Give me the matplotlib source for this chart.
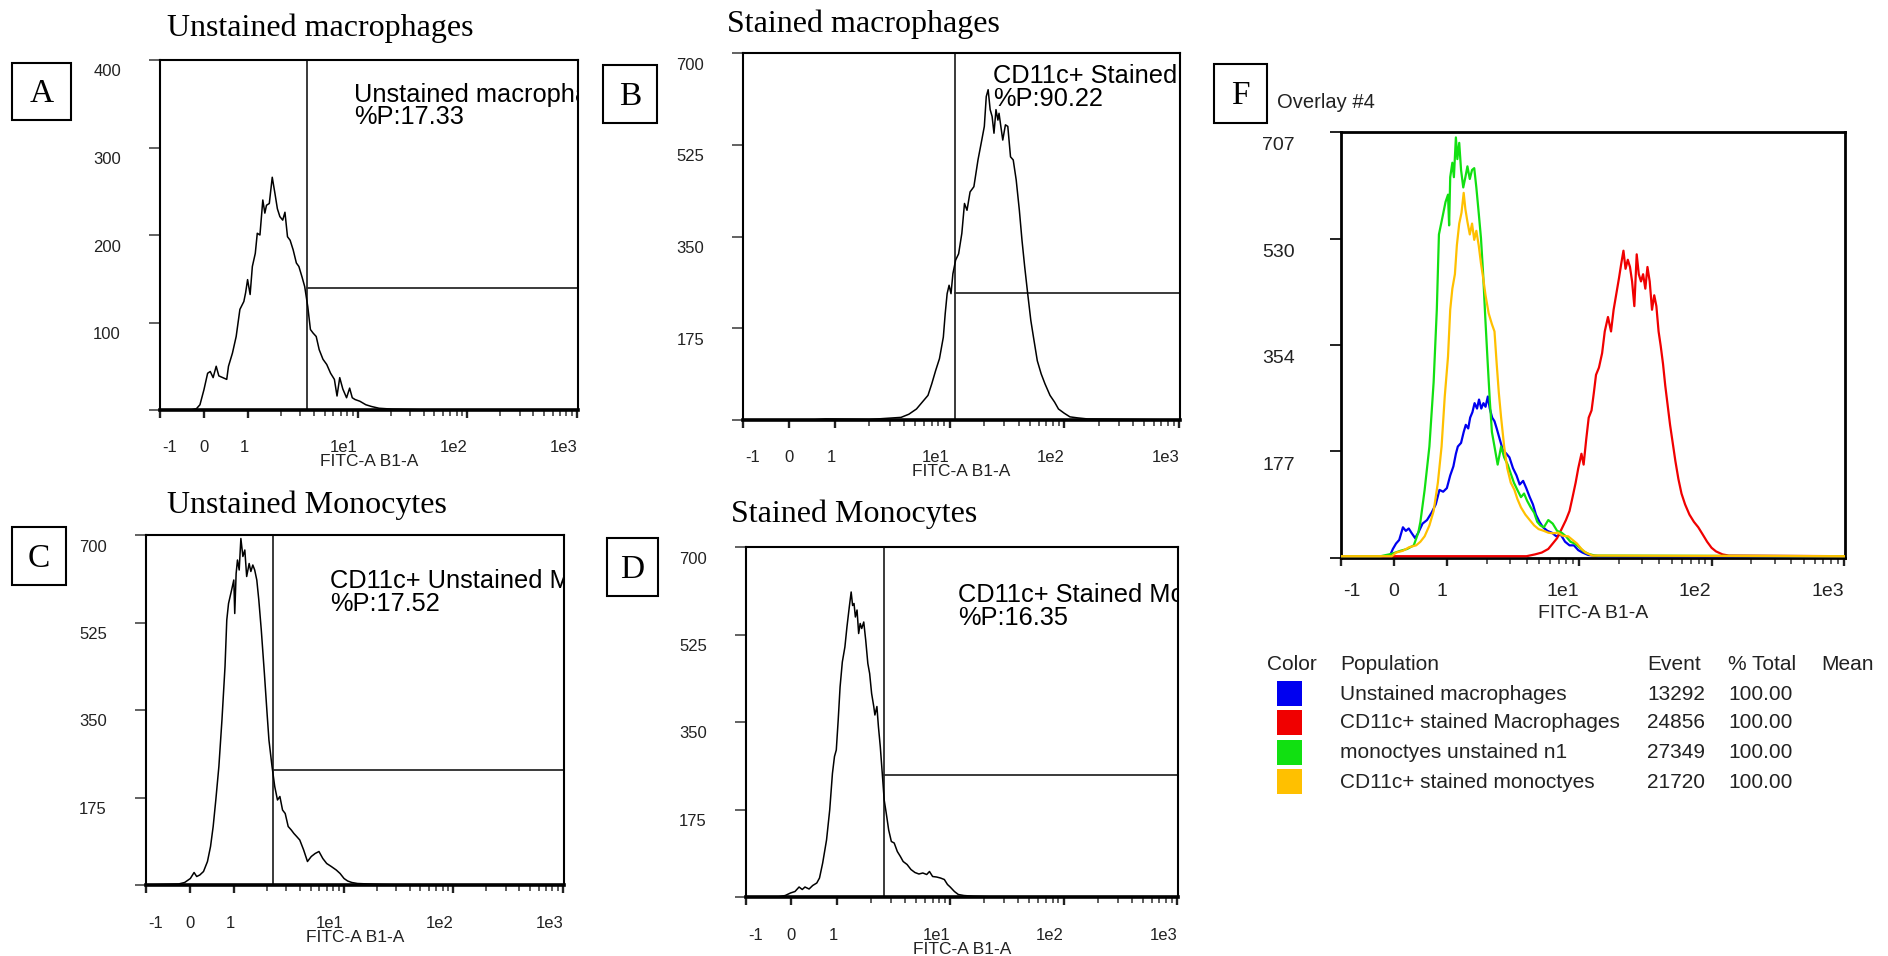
import numpy as np
import matplotlib
matplotlib.use("Agg")
import matplotlib.pyplot as plt
import matplotlib.transforms as mtransforms
from matplotlib.patches import Rectangle
from matplotlib.ticker import FixedLocator, NullFormatter

plt.rcParams['font.family'] = ['Liberation Sans', 'DejaVu Sans']

W, H, DPI = 1888, 956, 100

# ---------------------------------------------------------------- data
x_major = [-1, 0, 1, 10, 100, 1000]
x_major_labels = ['-1', '0', '1', '1e1', '1e2', '1e3']
x_minor = [2, 3, 4, 5, 6, 7, 8, 9, 20, 30, 40, 50, 60, 70, 80, 90,
           200, 300, 400, 500, 600, 700, 800, 900]

# A: unstained macrophages
a_x = [-1, -0.3, -0.17, -0.09, 0.0, 0.085, 0.145, 0.21, 0.28, 0.34, 0.43, 0.52, 0.56, 0.65, 0.735,
       0.82, 0.91, 0.95, 0.995, 1.05, 1.10, 1.17, 1.22, 1.29, 1.37, 1.43, 1.48, 1.57, 1.67, 1.77,
       1.86, 1.96, 2.08, 2.18, 2.30, 2.43, 2.59, 2.77, 2.92, 3.12, 3.30, 3.52, 3.72, 3.93, 4.20,
       4.47, 4.84, 5.24, 5.68, 6.15, 6.50, 6.88, 7.34, 7.94, 8.47, 8.95, 9.48, 10.5, 11.9, 13.4,
       15.7, 20.7, 30.9, 45, 1000]
a_y = [0, 0, 1.5, 6, 23, 42, 44, 37, 50, 39, 37, 35, 50, 65, 84,
       115, 124, 134, 149, 132, 164, 179, 202, 200, 240, 225, 234, 236, 266, 247,
       230, 221, 217, 226, 198, 194, 183, 168, 164, 152, 141, 118, 92, 88, 84,
       69, 58, 52, 42, 35, 16, 37, 24, 14, 25, 14, 12, 10, 6, 4,
       2, 1, 0.5, 0, 0]
a_yticks = [100, 200, 300, 400]
a_gate = (3.44, 140)
a_name, a_pct = 'Unstained macropha', '%P:17.33'
a_title = 'Unstained macrophages'

# B: CD11c+ stained macrophages
b_x = [-1, 0.5, 0.8, 2.0, 3.78, 4.42, 5.15, 5.78, 6.49, 7.0, 7.56, 8.17, 8.83, 9.17, 9.53,
       9.91, 10.3, 10.7, 11.3, 12.0, 12.8, 13.5, 14.2, 15.1, 16.3, 17.7, 19.1, 20.1, 20.9, 21.7,
       22.6, 23.5, 24.4, 25.4, 26.4, 27.0, 28.0, 29.1, 30.7, 32.2, 34.0, 35.9, 38.1, 40.6, 42.8,
       45.2, 48.0, 51.1, 53.9, 58.2, 62.9, 67.9, 75.1, 82.4, 89.0, 99.8, 112, 131, 160, 1000]
b_y = [0, 0, 2, 1, 5, 11, 21, 34, 47, 69, 94, 117, 158, 203, 241,
       257, 241, 279, 305, 317, 356, 413, 400, 435, 445, 496, 534, 560, 617, 630,
       592, 579, 547, 592, 572, 585, 560, 534, 563, 560, 502, 496, 458, 400, 343,
       292, 241, 190, 158, 113, 88, 69, 47, 34, 21, 13, 6, 4, 2, 0]
b_gate = (11.1, 242)
b_name, b_pct = 'CD11c+ Stained', '%P:90.22'
b_title = 'Stained macrophages'

# C: unstained monocytes
c_x = [-1, -0.26, -0.12, 0.01, 0.095, 0.155, 0.225, 0.31, 0.40, 0.47, 0.53, 0.59, 0.66, 0.73, 0.80,
       0.84, 0.88, 0.95, 1.0, 1.02, 1.05, 1.08, 1.12, 1.16, 1.21, 1.26, 1.31, 1.38, 1.43, 1.49,
       1.55, 1.62, 1.69, 1.78, 1.90, 2.01, 2.09, 2.23, 2.36, 2.50, 2.63, 2.78, 2.94, 3.13, 3.34,
       3.53, 3.74, 3.99, 4.33, 4.69, 5.08, 5.51, 5.97, 6.47, 7.02, 7.73, 8.58, 9.30, 10.1, 10.9,
       11.9, 13.4, 17.1, 22, 28, 40, 1000]
c_y = [0, 2, 5, 13, 25, 17, 20, 27, 47, 77, 117, 170, 237, 330, 437,
       530, 563, 590, 610, 543, 623, 650, 630, 693, 657, 670, 617, 643, 627, 640,
       630, 610, 570, 510, 423, 343, 290, 237, 197, 170, 177, 150, 143, 117, 110,
       103, 97, 90, 70, 47, 57, 63, 67, 53, 43, 37, 30, 23, 13, 8,
       5, 3, 2, 1, 0.5, 0, 0]
c_gate = (2.26, 231)
c_name, c_pct = 'CD11c+ Unstained M', '%P:17.52'
c_title = 'Unstained Monocytes'

# D: CD11c+ stained monocytes
d_x = [-1, -0.3, -0.135, -0.02, 0.08, 0.17, 0.24, 0.30, 0.39, 0.47, 0.56, 0.62, 0.69, 0.775, 0.845,
       0.905, 0.95, 0.99, 1.03, 1.07, 1.12, 1.18, 1.23, 1.29, 1.34, 1.38, 1.42, 1.46, 1.51, 1.56,
       1.61, 1.66, 1.73, 1.80, 1.88, 1.95, 2.03, 2.12, 2.17, 2.26, 2.33, 2.42, 2.52, 2.62, 2.73,
       2.87, 3.03, 3.21, 3.42, 3.64, 3.85, 4.17, 4.51, 4.89, 5.30, 5.74, 6.21, 6.57, 7.0, 7.58,
       8.21, 8.88, 9.47, 10.0, 10.9, 11.8, 13.2, 16, 22, 1000]
d_y = [0, 0, 3, 8, 11, 20, 15, 20, 16, 23, 28, 38, 68, 114, 174,
       247, 281, 294, 354, 420, 470, 500, 540, 580, 610, 583, 587, 560, 574, 527,
       547, 537, 550, 514, 467, 447, 407, 381, 364, 381, 341, 301, 247, 194, 168,
       134, 111, 108, 91, 81, 71, 65, 55, 49, 46, 48, 45, 51, 41, 40,
       38, 35, 25, 20, 11, 5, 3, 1.5, 0.5, 0]
d_gate = (2.63, 244)
d_name, d_pct = 'CD11c+ Stained Mo', '%P:16.35'
d_title = 'Stained Monocytes'

bcd_yticks = [175, 350, 525, 700]

# F: overlay of the four populations
f_yticks = [177, 354, 530, 707]

f_blue_x = [-1, -0.08, -0.02, 0.04, 0.10, 0.17, 0.225, 0.28, 0.33, 0.40, 0.46, 0.54, 0.625, 0.71, 0.79,
            0.86, 0.93, 1.0, 1.06, 1.12, 1.17, 1.21, 1.28, 1.34, 1.39, 1.45, 1.50, 1.56, 1.62, 1.69,
            1.75, 1.82, 1.89, 1.96, 2.04, 2.11, 2.20, 2.29, 2.38, 2.51, 2.65, 2.82, 2.97, 3.16, 3.36,
            3.55, 3.77, 3.98, 4.23, 4.47, 4.71, 5.01, 5.33, 5.75, 6.21, 6.71, 7.24, 7.82, 8.45, 9.12,
            9.84, 10.6, 11.7, 14, 1000]
f_blue_y = [3, 3, 15, 24, 30, 51, 45, 49, 42, 33, 42, 57, 63, 75, 89,
            113, 110, 116, 137, 152, 173, 185, 191, 209, 221, 215, 233, 242, 257, 248,
            263, 248, 257, 251, 268, 248, 233, 227, 215, 197, 179, 173, 167, 149, 137,
            122, 128, 116, 101, 89, 72, 60, 51, 45, 42, 36, 39, 27, 21, 21,
            13, 9, 5, 3, 3]

f_red_x = [-1, 4.0, 4.64, 5.21, 5.84, 6.31, 6.81, 7.36, 7.94, 8.45, 8.91, 9.4, 9.84, 10.4, 10.8,
           11.3, 11.8, 12.4, 12.9, 13.4, 14.1, 14.9, 15.6, 16.5, 17.4, 18.2, 19.2, 20.0, 20.8, 21.6,
           22.4, 23.3, 24.2, 25.1, 26.1, 27.2, 28.2, 29.3, 30.4, 31.6, 32.8, 34.1, 35.5, 36.9, 38.3,
           39.8, 41.3, 43.0, 44.7, 46.4, 48.6, 50.9, 53.3, 56.2, 59.3, 63.1, 68.1, 73.6, 79.4, 85.8,
           92.6, 100, 108, 121, 135, 1000]
f_red_y = [3, 3, 6, 9, 15, 24, 33, 48, 63, 78, 101, 125, 149, 173, 155,
           197, 233, 245, 274, 304, 316, 340, 376, 400, 376, 412, 442, 465, 489, 510,
           480, 495, 483, 459, 418, 504, 471, 459, 471, 447, 483, 459, 412, 436, 418,
           376, 352, 322, 286, 257, 221, 191, 161, 131, 107, 89, 72, 60, 51, 39,
           27, 17, 11, 6, 4, 3]

f_green_x = [-1, -0.25, -0.04, 0.125, 0.25, 0.375, 0.46, 0.5, 0.58, 0.67, 0.75, 0.81, 0.85, 0.92, 0.975,
             1.02, 1.04, 1.06, 1.10, 1.13, 1.17, 1.20, 1.24, 1.28, 1.33, 1.38, 1.43, 1.49, 1.55, 1.61,
             1.67, 1.74, 1.81, 1.88, 1.95, 2.03, 2.11, 2.19, 2.29, 2.42, 2.57, 2.71, 2.88, 3.04, 3.21,
             3.41, 3.63, 3.83, 4.04, 4.30, 4.57, 4.82, 5.09, 5.41, 5.84, 6.31, 6.81, 7.36, 7.94, 8.58,
             9.26, 10.0, 10.8, 11.7, 13.1, 1000]
f_green_y = [3, 3, 7, 12, 15, 21, 42, 60, 113, 185, 292, 412, 537, 567, 591,
             603, 552, 632, 656, 632, 698, 662, 689, 644, 615, 632, 650, 629, 644, 647,
             615, 573, 531, 471, 400, 328, 262, 209, 185, 155, 185, 167, 155, 140, 125,
             113, 101, 107, 95, 84, 75, 60, 54, 51, 63, 57, 45, 42, 36, 27,
             24, 18, 11, 7, 4, 3]

f_yellow_x = [-1, -0.04, 0.04, 0.17, 0.29, 0.42, 0.5, 0.58, 0.67, 0.75, 0.83, 0.9, 0.96, 1.02, 1.06,
              1.10, 1.15, 1.19, 1.24, 1.29, 1.34, 1.38, 1.43, 1.49, 1.55, 1.61, 1.67, 1.74, 1.81, 1.88,
              1.96, 2.07, 2.19, 2.29, 2.38, 2.47, 2.57, 2.71, 2.86, 3.04, 3.24, 3.41, 3.63, 3.92, 4.23,
              4.57, 4.93, 5.41, 5.84, 6.31, 6.92, 7.47, 8.25, 8.91, 9.62, 10.4, 11.2, 12.6, 1000]
f_yellow_y = [3, 3, 9, 12, 18, 21, 27, 36, 54, 78, 125, 185, 268, 334, 412,
              447, 471, 519, 555, 573, 606, 579, 558, 537, 555, 528, 543, 519, 489, 465,
              436, 406, 388, 376, 322, 274, 233, 185, 149, 125, 113, 98, 84, 72, 63,
              54, 48, 45, 42, 41, 42, 37, 36, 30, 24, 15, 9, 4, 3]

populations = ['Unstained macrophages', 'CD11c+ stained Macrophages',
               'monoctyes unstained n1', 'CD11c+ stained monoctyes']
events = ['13292', '24856', '27349', '21720']
totals = ['100.00', '100.00', '100.00', '100.00']
pop_colors = ['#0000f0', '#f00000', '#11e011', '#ffc000']

# ---------------------------------------------------------------- scale
K = 0.4          # width of the linear region around zero, in decades
XMIN, XMAX = -1, 1020


def fwd(x):
    x = np.asarray(x, float)
    return np.where(x <= 1, K * x, K + np.log10(np.clip(x, 1, None)))


def inv(u):
    u = np.asarray(u, float)
    return np.where(u <= K, u / K, 10 ** (np.clip(u, K, None) - K))


fig = plt.figure(figsize=(W / DPI, H / DPI), dpi=DPI)
fig.patch.set_facecolor('white')


def shift(dx, dy):
    return mtransforms.ScaledTranslation(dx / DPI, -dy / DPI, fig.dpi_scale_trans)


def px_axes(x0, y0, x1, y1):
    return fig.add_axes([x0 / W, 1 - y1 / H, (x1 - x0) / W, (y1 - y0) / H])


label_align = [('left', 2), ('center', 0), ('right', 1), ('right', 0), ('right', 0), ('right', 0)]


def histogram_axes(box, ymax, yticks, fs, ylab_dx, ylab_dy, xtl_dy, xlab_dy, fs_xlab):
    ax = px_axes(*box)
    ax.set_xscale('function', functions=(fwd, inv))
    ax.set_xlim(XMIN, XMAX)
    ax.set_ylim(0, ymax)
    ax.xaxis.set_major_locator(FixedLocator(x_major))
    ax.xaxis.set_minor_locator(FixedLocator(x_minor))
    ax.yaxis.set_major_locator(FixedLocator([0] + yticks))
    ax.yaxis.set_minor_locator(FixedLocator([]))
    ax.xaxis.set_major_formatter(NullFormatter())
    ax.xaxis.set_minor_formatter(NullFormatter())
    ax.yaxis.set_major_formatter(NullFormatter())
    ax.tick_params(axis='x', which='major', direction='out', length=6, width=1.7, color='#222222')
    ax.tick_params(axis='x', which='minor', direction='out', length=4.5, width=1.1, color='#333333')
    ax.tick_params(axis='y', which='major', direction='out', length=8, width=1.3, color='#555555')
    for s in ax.spines.values():
        s.set_linewidth(1.5)
        s.set_color('black')
    ax.spines['bottom'].set_linewidth(2.6)

    ty = mtransforms.blended_transform_factory(ax.transAxes, ax.transData)
    for v in yticks:
        ax.text(0, v, str(v), transform=ty + shift(ylab_dx, ylab_dy),
                ha='right', va='center', fontsize=fs, color='#222222')
    tx = mtransforms.blended_transform_factory(ax.transData, ax.transAxes)
    for v, lab, (ha, dx) in zip(x_major, x_major_labels, label_align):
        ax.text(v, 0, lab, transform=tx + shift(dx, xtl_dy),
                ha=ha, va='center', fontsize=fs, color='#222222')
    ax.text(0.5, 0, 'FITC-A B1-A', transform=ax.transAxes + shift(0, xlab_dy),
            ha='center', va='center', fontsize=fs_xlab, color='#222222')
    return ax


def gated_panel(box, xs, ys, ymax, yticks, gate, name, pct, text_x, text_y1, text_y2):
    ax = histogram_axes(box, ymax, yticks, 12, -39, 12, 38, 52, 12.5)
    ax.plot(xs, ys, color='black', lw=1.1, zorder=3)
    gx, gy = gate
    ax.axvline(gx, color='#2b2b2b', lw=1.3, zorder=2)
    ax.plot([gx, XMAX], [gy, gy], color='#2b2b2b', lw=1.3, zorder=2)
    # gate annotation; the name runs past the plot edge and is cut there
    ax.text(text_x, text_y1, name, fontsize=18.3, va='center', ha='left', clip_on=True)
    ax.text(text_x, text_y2, pct, fontsize=18.3, va='center', ha='left', clip_on=True)
    return ax


def letter_box(x0, y0, x1, y1, letter):
    fig.add_artist(Rectangle((x0 / W, 1 - y1 / H), (x1 - x0) / W, (y1 - y0) / H,
                             transform=fig.transFigure, fill=False, lw=1.5, ec='black'))
    fig.text((x0 + x1) / 2 / W, 1 - ((y0 + y1) / 2 + 11) / H, letter,
             family=['Liberation Serif', 'DejaVu Serif'], fontsize=24, ha='center', va='baseline')


def title(x, baseline, text):
    fig.text(x / W, 1 - baseline / H, text, family=['Liberation Serif', 'DejaVu Serif'],
             fontsize=23, ha='left', va='baseline')


# ---------------------------------------------------------------- panels A-D
gated_panel((160, 60, 578, 410), a_x, a_y, 400, a_yticks, a_gate, a_name, a_pct, 9.25, 360, 335)
gated_panel((743, 53, 1180, 420), b_x, b_y, 700, bcd_yticks, b_gate, b_name, b_pct, 24.0, 656, 612)
gated_panel((146, 535, 564, 885), c_x, c_y, 700, bcd_yticks, c_gate, c_name, c_pct, 7.6, 607, 562)
gated_panel((746, 547, 1178, 897), d_x, d_y, 700, bcd_yticks, d_gate, d_name, d_pct, 11.8, 603, 558)

title(167, 36, a_title)
title(727, 32, b_title)
title(167, 513, c_title)
title(731, 522, d_title)

letter_box(12, 63, 71, 120, 'A')
letter_box(603, 65, 657, 123, 'B')
letter_box(12, 527, 66, 585, 'C')
letter_box(607, 538, 658, 596, 'D')

# ---------------------------------------------------------------- panel F overlay
axf = histogram_axes((1341, 132, 1845, 558), 707, f_yticks, 14, -46, 14, 34, 55, 14)
axf.tick_params(axis='y', which='major', color='#111111')
for s in axf.spines.values():
    s.set_linewidth(2.0)
series = [(f_blue_x, f_blue_y), (f_red_x, f_red_y), (f_green_x, f_green_y), (f_yellow_x, f_yellow_y)]
for (xs, ys), col in zip(series, pop_colors):
    axf.plot(xs, ys, color=col, lw=1.6, zorder=3)

letter_box(1214, 64, 1267, 123, 'F')
fig.text(1277 / W, 1 - 103 / H, 'Overlay #4', fontsize=14.5, ha='left', va='center', color='#222222')

# population table below the overlay
col_x = {'Color': 1267, 'Population': 1340, 'Event': 1647, '% Total': 1728, 'Mean': 1821}
header_y = 665
row_y = [694, 723, 753, 782]
for head, cx in col_x.items():
    fig.text(cx / W, 1 - header_y / H, head, fontsize=15, ha='left', va='center', color='#222222')
for i, (pop, ev, tot, col) in enumerate(zip(populations, events, totals, pop_colors)):
    yc = row_y[i]
    fig.add_artist(Rectangle((1277 / W, 1 - (yc + 12) / H), 25 / W, 25 / H,
                             transform=fig.transFigure, fc=col, ec='none'))
    fig.text(col_x['Population'] / W, 1 - yc / H, pop, fontsize=15, ha='left', va='center', color='#222222')
    fig.text(col_x['Event'] / W, 1 - yc / H, ev, fontsize=15, ha='left', va='center', color='#222222')
    fig.text(col_x['% Total'] / W, 1 - yc / H, tot, fontsize=15, ha='left', va='center', color='#222222')

fig.savefig('out.png', dpi=DPI, facecolor='white')
